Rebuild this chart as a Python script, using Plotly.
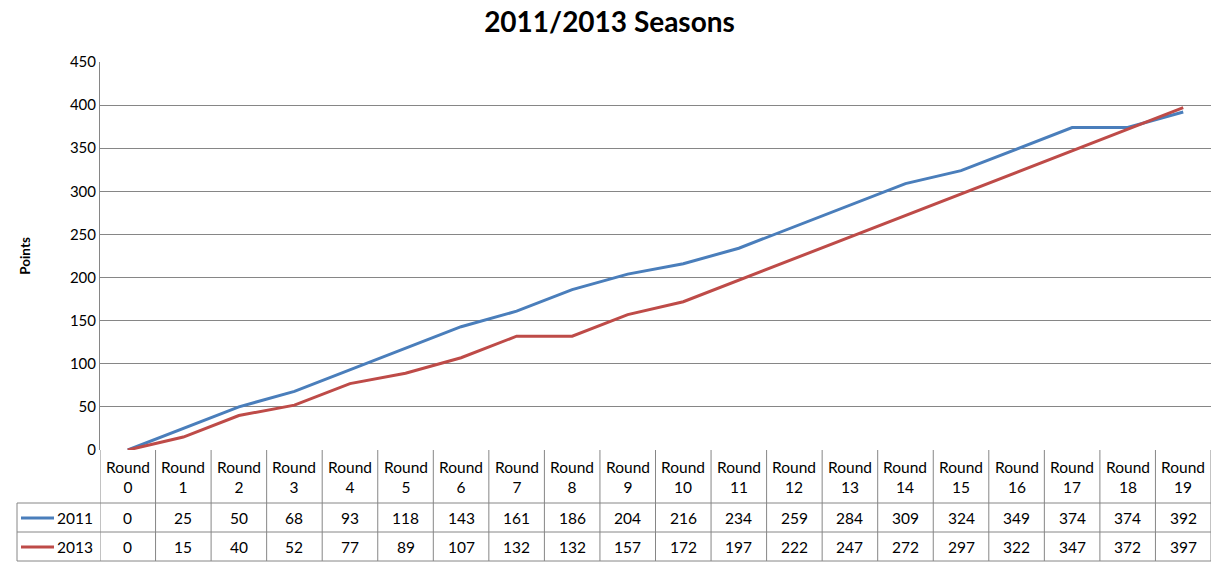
import plotly.graph_objects as go

rounds = [f"Round {i}" for i in range(20)]
pts_2011 = [0, 25, 50, 68, 93, 118, 143, 161, 186, 204, 216, 234, 259, 284, 309, 324, 349, 374, 374, 392]
pts_2013 = [0, 15, 40, 52, 77, 89, 107, 132, 132, 157, 172, 197, 222, 247, 272, 297, 322, 347, 372, 397]
series = [("2011", pts_2011, "#4A7EBB"), ("2013", pts_2013, "#BE4B48")]
y_ticks = list(range(0, 451, 50))

W, H = 1219, 567
ML, MR, MT, MB = 100, 8, 62, 117
PH = H - MT - MB
PW = W - ML - MR
FONT = "Lato"
GRID = "#868686"

def py(pix):
    return (H - MB - pix) / PH

def px(pix):
    return (pix - ML) / PW

fig = go.Figure()
idx = list(range(len(rounds)))
for name, vals, col in series:
    fig.add_trace(go.Scatter(x=idx, y=vals, mode="lines", name=name,
                             line=dict(color=col, width=3), showlegend=False))

shapes = []
annotations = []
n = len(rounds)
y_hdr_bot = py(503)
y_r1_bot = py(532)
y_r2_bot = py(561)
line = dict(color=GRID, width=1)
for i in range(n + 1):
    shapes.append(dict(type="line", xref="x", yref="paper", x0=i - 0.5, x1=i - 0.5,
                       y0=0, y1=y_r2_bot, line=line))
for yy in (y_hdr_bot, y_r1_bot, y_r2_bot):
    shapes.append(dict(type="line", xref="paper", yref="paper", x0=px(17), x1=1,
                       y0=yy, y1=yy, line=line))
shapes.append(dict(type="line", xref="paper", yref="paper", x0=px(17), x1=px(17),
                   y0=y_hdr_bot, y1=y_r2_bot, line=line))

for i, r in enumerate(rounds):
    w, num = r.split(" ")
    annotations.append(dict(x=i, y=py(477), xref="x", yref="paper", text=f"{w}<br>{num}",
                            showarrow=False, font=dict(family=FONT, size=15.5, color="#000"),
                            xanchor="center", yanchor="middle"))
row_centers = [py(518), py(547)]
for (name, vals, col), yc in zip(series, row_centers):
    for i, v in enumerate(vals):
        annotations.append(dict(x=i, y=yc, xref="x", yref="paper", text=str(v),
                                showarrow=False, font=dict(family=FONT, size=15.5, color="#000"),
                                xanchor="center", yanchor="middle"))
    shapes.append(dict(type="line", xref="paper", yref="paper", x0=px(21), x1=px(54),
                       y0=yc, y1=yc, line=dict(color=col, width=3)))
    annotations.append(dict(x=px(95), y=yc, xref="paper", yref="paper", text=name,
                            showarrow=False, font=dict(family=FONT, size=15.5, color="#000"),
                            xanchor="right", yanchor="middle"))

fig.update_layout(
    width=W, height=H,
    margin=dict(l=ML, r=MR, t=MT, b=MB),
    paper_bgcolor="white", plot_bgcolor="white",
    title=dict(text="<b>2011/2013 Seasons</b>", x=0.5, xanchor="center", y=1 - 22 / H,
               yanchor="middle", font=dict(family=FONT, size=28, color="#000")),
    xaxis=dict(range=[-0.5, n - 0.5], showgrid=False, showticklabels=False, zeroline=False,
               showline=False, fixedrange=True),
    yaxis=dict(range=[0, 450], tickvals=y_ticks, showgrid=True, gridcolor=GRID, gridwidth=1,
               zeroline=False, showline=True, linecolor=GRID, linewidth=1,
               ticks="outside", ticklen=0, tickfont=dict(family=FONT, size=15, color="#000"),
               title=dict(text="<b>Points</b>", font=dict(family=FONT, size=13.5, color="#000"),
                          standoff=36)),
    shapes=shapes, annotations=annotations,
)
fig.write_html("out.html", config={"displayModeBar": False},
               post_script="document.body.style.margin='0';document.body.style.overflow='hidden';")
